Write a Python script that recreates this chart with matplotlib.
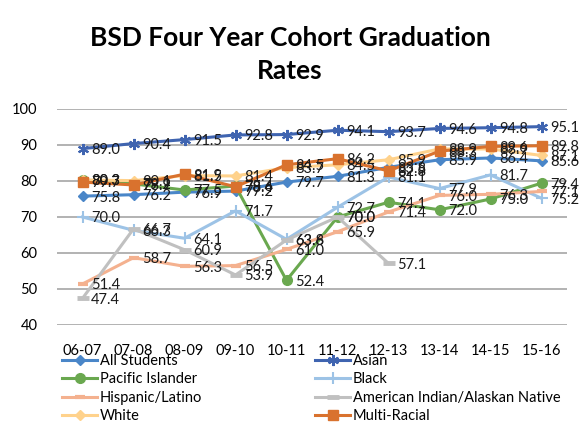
import numpy as np
import matplotlib
matplotlib.use("Agg")
import matplotlib.pyplot as plt

plt.rcParams['font.family'] = ['Lato', 'DejaVu Sans']

years = ["06-07", "07-08", "08-09", "09-10", "10-11", "11-12", "12-13", "13-14", "14-15", "15-16"]
all_students = [75.8, 76.2, 76.9, 77.2, 79.7, 81.3, 83.8, 85.9, 86.4, 85.6]
asian = [89.0, 90.4, 91.5, 92.8, 92.9, 94.1, 93.7, 94.6, 94.8, 95.1]
pacific = [80.3, 79.2, 77.5, 78.6, 52.4, 70.0, 74.1, 72.0, 75.0, 79.4]
black = [70.0, 66.3, 64.1, 71.7, 63.8, 72.7, 81.1, 77.9, 81.7, 75.2]
hispanic = [51.4, 58.7, 56.3, 56.5, 61.0, 65.9, 71.4, 76.0, 76.3, 77.1]
amind = [47.4, 66.7, 60.9, 53.9, 63.6, 70.0, 57.1, None, None, None]
white = [80.3, 80.1, 81.5, 81.4, 83.7, 84.5, 85.9, 88.9, 88.9, 87.1]
multi = [79.7, 78.9, 81.9, 78.4, 84.5, 86.2, 82.8, 88.3, 89.6, 89.8]

# name, values, colour, marker, marker size, marker edge width
series = [
    ("All Students", all_students, "#4A86C8", "D", 5, 1),
    ("Asian", asian, "#3F64B0", (6, 2, 0), 8, 1.5),
    ("Pacific Islander", pacific, "#6AA84F", "o", 7, 1),
    ("Black", black, "#9DC3E6", "+", 9, 1.5),
    ("Hispanic/Latino", hispanic, "#F4B18F", "_", 7, 3),
    ("American Indian/Alaskan Native", amind, "#C0C0C0", "_", 8, 3.5),
    ("White", white, "#FFD28C", "D", 5, 1),
    ("Multi-Racial", multi, "#D9722E", "s", 7, 1),
]

W, H = 580, 429
fig = plt.figure(figsize=(W / 100, H / 100), dpi=100)
ax = fig.add_axes([57 / W, 1 - 325 / H, 510 / W, 216 / H])

x = np.arange(len(years))
handles = {}
for name, vals, color, marker, ms, mew in series:
    y = np.array([np.nan if v is None else v for v in vals], dtype=float)
    h, = ax.plot(x, y, color=color, lw=2.2, marker=marker, ms=ms,
                 mfc=color, mec=color, mew=mew, label=name, zorder=3)
    handles[name] = h
    for xi, yi in zip(x, y):
        if not np.isnan(yi):
            ax.annotate(f"{yi:.1f}", (xi, yi), xytext=(6, -1),
                        textcoords="offset points", ha="left", va="center",
                        fontsize=10.5, color="#1a1a1a", zorder=5,
                        annotation_clip=False)

ax.set_xlim(-0.5, 9.5)
ax.set_ylim(40, 100)
ax.set_yticks(range(40, 101, 10))
ax.set_xticks(x)
ax.set_xticklabels(years)
ax.tick_params(axis="both", length=0, labelsize=10.5, colors="#000000")
ax.tick_params(axis="y", pad=14)
ax.tick_params(axis="x", pad=14)
ax.grid(axis="y", color="#A6A6A6", lw=1.2)
ax.set_axisbelow(True)
for s in ax.spines.values():
    s.set_visible(False)

fig.text(0.5, 1 - 38 / H, "BSD Four Year Cohort Graduation", ha="center", va="center",
         fontsize=19, fontweight="bold")
fig.text(0.5, 1 - 71 / H, "Rates", ha="center", va="center",
         fontsize=19, fontweight="bold")

col1 = ["All Students", "Pacific Islander", "Hispanic/Latino", "White"]
col2 = ["Asian", "Black", "American Indian/Alaskan Native", "Multi-Racial"]
for names, xpos in ((col1, 62), (col2, 315)):
    fig.legend([handles[n] for n in names], names, loc="upper left",
               bbox_to_anchor=(xpos / W, 1 - 354 / H), frameon=False,
               borderpad=0, borderaxespad=0, handlelength=2.4,
               handletextpad=0.2, labelspacing=0.3, fontsize=10.5)

fig.savefig("out.png", dpi=100)
